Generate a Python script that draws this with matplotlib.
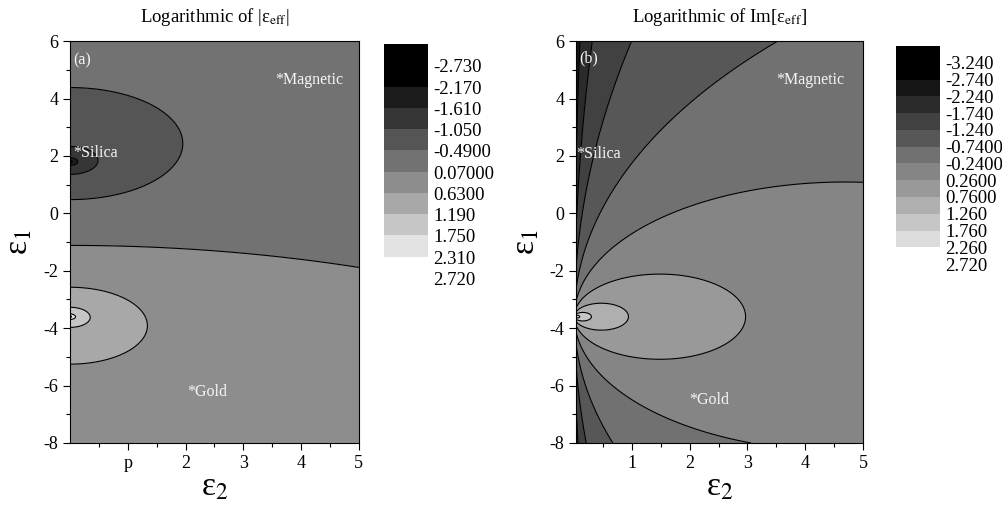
import numpy as np
import matplotlib
matplotlib.use("Agg")
import matplotlib.pyplot as plt
from matplotlib.ticker import MultipleLocator, FixedLocator, FixedFormatter

plt.rcParams['font.family'] = ['Liberation Serif', 'DejaVu Serif']
plt.rcParams['mathtext.fontset'] = 'stix'
plt.rcParams['axes.unicode_minus'] = False
plt.rcParams['contour.negative_linestyle'] = 'solid'

# eps_eff = (eps - zero) / (eps - pole), eps = eps1 + i*eps2 (zero / pole)
eps_zero = 1.8
pole = -3.6

eps2_range_a = (0.0, 5.0)
eps2_range_b = (0.03, 5.0)
eps1_range = (-8.0, 6.0)

levels_a = [-2.73, -2.17, -1.61, -1.05, -0.49, 0.07, 0.63, 1.19, 1.75, 2.31, 2.72]
labels_a = ["-2.730", "-2.170", "-1.610", "-1.050", "-0.4900", "0.07000",
            "0.6300", "1.190", "1.750", "2.310", "2.720"]
greys_a = ["#000000", "#000000", "#1c1c1c", "#363636", "#555555", "#727272",
           "#8d8d8d", "#a8a8a8", "#c6c6c6", "#e3e3e3"]

levels_b = [-3.24, -2.74, -2.24, -1.74, -1.24, -0.74, -0.24, 0.26, 0.76,
            1.26, 1.76, 2.26, 2.72]
labels_b = ["-3.240", "-2.740", "-2.240", "-1.740", "-1.240", "-0.7400",
            "-0.2400", "0.2600", "0.7600", "1.260", "1.760", "2.260", "2.720"]
greys_b = ["#000000", "#000000", "#161616", "#2b2b2b", "#414141", "#575757",
           "#717171", "#858585", "#999999", "#afafaf", "#c6c6c6", "#dcdcdc"]

xtick_labels_a = ["p", "2", "3", "4", "5"]
xtick_labels_b = ["1", "2", "3", "4", "5"]

notes_a = [("(a)", 0.05, 5.34), ("*Magnetic", 3.55, 4.64), ("*Silica", 0.05, 2.1), ("*Gold", 2.03, -6.23)]
notes_b = [("(b)", 0.09, 5.4), ("*Magnetic", 3.5, 4.64), ("*Silica", 0.03, 2.06), ("*Gold", 1.99, -6.5)]


def field(x_range, kind):
    e2 = np.linspace(x_range[0], x_range[1], 700)
    e1 = np.linspace(eps1_range[0], eps1_range[1], 900)
    E2, E1 = np.meshgrid(e2, e1)
    eps = E1 + 1j * E2
    eff = (eps - eps_zero) / (eps - pole)
    if kind == "abs":
        z = np.log10(np.abs(eff))
    else:
        z = np.log10(np.clip(eff.imag, 1e-12, None))
    return E2, E1, z


def draw_panel(ax, x_range, kind, levels, greys, xlabels, notes, title):
    X, Y, Z = field(x_range, kind)
    bounds = [-100] + levels[1:-1] + [100]
    ax.contourf(X, Y, Z, levels=bounds, colors=greys[1:] + ["#f4f4f4"])
    ax.contour(X, Y, Z, levels=levels[1:-1], colors="black", linewidths=0.8,
               linestyles="solid")
    ax.set_xlim(*x_range)
    ax.set_ylim(*eps1_range)
    ax.xaxis.set_major_locator(FixedLocator([1, 2, 3, 4, 5]))
    ax.xaxis.set_major_formatter(FixedFormatter(xlabels))
    ax.xaxis.set_minor_locator(FixedLocator([0.5, 1.5, 2.5, 3.5, 4.5]))
    ax.yaxis.set_major_locator(MultipleLocator(2))
    ax.yaxis.set_minor_locator(MultipleLocator(1))
    ax.tick_params(which="major", direction="out", length=5, width=0.8, labelsize=13)
    ax.tick_params(which="minor", direction="out", length=3, width=0.8)
    ax.set_xlabel("ε$_{2}$", fontsize=24, labelpad=0)
    ax.set_ylabel("ε$_{1}$", fontsize=24, labelpad=6)
    ax.set_title(title, fontsize=13.5, pad=14)
    for txt, x, y in notes:
        ax.text(x, y, txt, color="#f6f6f6", fontsize=11.5, ha="left", va="center")


def draw_key(ax, greys, labels):
    n = len(greys)
    for i, c in enumerate(greys):
        ax.bar(0, 1, bottom=i - 1, width=1, color=c, align="center")
    ax.set_xlim(-0.5, 0.5)
    ax.set_ylim(n - 1, -1)
    ax.axis("off")
    for k, lab in enumerate(labels):
        ax.text(0.62, k + 0.12, lab, fontsize=13.5, ha="left", va="center", clip_on=False)


fig = plt.figure(figsize=(10.03, 5.08), dpi=100)
ax_a = fig.add_axes([0.0698, 0.128, 0.288, 0.791])
ax_b = fig.add_axes([0.5743, 0.128, 0.286, 0.791])
cb_a = fig.add_axes([0.383, 0.4947, 0.0439, 0.4187])
cb_b = fig.add_axes([0.8933, 0.5132, 0.0439, 0.3963])

draw_panel(ax_a, eps2_range_a, "abs", levels_a, greys_a, xtick_labels_a, notes_a,
           "Logarithmic of |ε$_{\\mathrm{eff}}$|")
draw_panel(ax_b, eps2_range_b, "imag", levels_b, greys_b, xtick_labels_b, notes_b,
           "Logarithmic of Im[ε$_{\\mathrm{eff}}$]")
draw_key(cb_a, greys_a, labels_a)
draw_key(cb_b, greys_b, labels_b)

fig.savefig("out.png", dpi=100)
